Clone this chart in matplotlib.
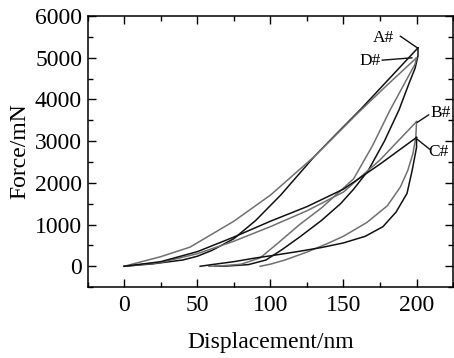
import matplotlib
matplotlib.use('Agg')
import numpy as np
from matplotlib import pyplot as plt
from matplotlib.ticker import MultipleLocator

# load-displacement curves (nm, mN)
a_load_x = [0, 20, 40, 50, 60, 75, 90, 107, 120, 130, 145, 161.5, 180, 201]
a_load_y = [0, 60, 150, 240, 380, 660, 1100, 1705, 2228, 2630, 3170, 3755, 4450, 5240]
a_unload_x = [201, 201, 199, 195, 188, 178, 167, 157, 148, 135, 120, 108, 97, 85, 70, 62]
a_unload_y = [5240, 5050, 4750, 4400, 3750, 3000, 2300, 1850, 1500, 1100, 700, 400, 150, 40, 5, 0]

d_load_x = [0, 25, 45, 75, 100, 130, 160, 180, 200]
d_load_y = [0, 230, 458, 1080, 1705, 2630, 3680, 4350, 5000]
d_unload_x = [200, 199, 192, 182, 170, 157, 147, 135, 120, 105, 93, 80, 65, 58]
d_unload_y = [5000, 4850, 4400, 3755, 2900, 2100, 1780, 1400, 1000, 550, 200, 50, 5, 0]

b_load_x = [0, 25, 50, 75, 100, 125, 150, 175, 200]
b_load_y = [0, 90, 300, 600, 950, 1330, 1780, 2550, 3470]
b_unload_x = [200, 199.5, 197.5, 194, 189, 180, 166, 150, 138.7, 125, 110, 100, 93]
b_unload_y = [3470, 3100, 2700, 2300, 1905, 1450, 1050, 720, 540, 340, 150, 50, 0]

c_load_x = [0, 25, 50, 75, 100, 125, 150, 175, 200]
c_load_y = [0, 110, 350, 700, 1080, 1430, 1850, 2450, 3090]
c_unload_x = [200, 200, 197, 193.5, 186, 177, 165, 150, 135, 120, 100, 90, 75, 60, 52]
c_unload_y = [3090, 2850, 2300, 1750, 1300, 950, 720, 560, 450, 360, 250, 200, 110, 40, 0]

# sample names, where they sit, and the peaks their leaders point at
samples = ['A#', 'B#', 'C#', 'D#']
label_xy = [(177.3, 5467), (216.4, 3675), (215.2, 2750), (168.4, 4920)]
leader_from = [(188.8, 5522), (208.4, 3634), (209, 2806), (176.4, 4943)]
leader_to = [(200.4, 5242), (200.4, 3450), (200.4, 3047), (197, 5000)]

black = '#111111'
grey = '#707070'

plt.rcParams['font.family'] = 'Liberation Serif'

fig = plt.figure(figsize=(4.54, 3.58), dpi=100)
ax = fig.add_axes([0.193, 0.198, 0.805, 0.757])

ax.plot(a_load_x, a_load_y, color=black, lw=1.1)
ax.plot(a_unload_x, a_unload_y, color=black, lw=1.1)
ax.plot(d_load_x, d_load_y, color=grey, lw=1.1)
ax.plot(d_unload_x, d_unload_y, color=grey, lw=1.1)
ax.plot(b_load_x, b_load_y, color=grey, lw=1.1)
ax.plot(b_unload_x, b_unload_y, color=grey, lw=1.1)
ax.plot(c_load_x, c_load_y, color=black, lw=1.1)
ax.plot(c_unload_x, c_unload_y, color=black, lw=1.1)

for name, txy, p0, p1 in zip(samples, label_xy, leader_from, leader_to):
    ax.text(txy[0], txy[1], name, fontsize=12.5, ha='center', va='center')
    ax.annotate('', xy=p1, xytext=p0,
                arrowprops=dict(arrowstyle='-', color=black, lw=1,
                                shrinkA=0, shrinkB=0))

ax.set_xlim(-25, 225)
ax.set_ylim(-500, 6000)
ax.xaxis.set_major_locator(MultipleLocator(50))
ax.xaxis.set_minor_locator(MultipleLocator(25))
ax.yaxis.set_major_locator(MultipleLocator(1000))
ax.yaxis.set_minor_locator(MultipleLocator(500))
ax.tick_params(which='both', direction='in', top=True, right=True, labelsize=17, width=1)
ax.tick_params(which='major', length=6)
ax.tick_params(which='minor', length=3.5)
ax.tick_params(axis='x', pad=6)
ax.tick_params(axis='y', pad=4)
for s in ax.spines.values():
    s.set_linewidth(1.1)

ax.set_xlabel('Displacement/nm', fontsize=17, labelpad=11)
ax.set_ylabel('Force/mN', fontsize=17, labelpad=3)

fig.savefig('out.png', dpi=100)
